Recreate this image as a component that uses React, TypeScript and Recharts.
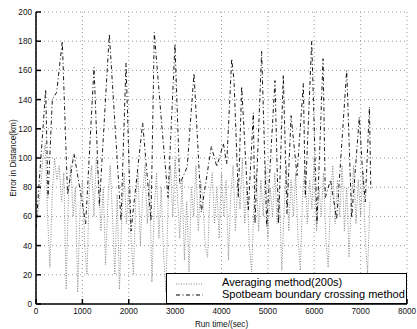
import React from 'react';
import { LineChart, Line, XAxis, YAxis, CartesianGrid, Legend } from 'recharts';

const xTicks = [0, 1000, 2000, 3000, 4000, 5000, 6000, 7000, 8000];
const yTicks = [0, 20, 40, 60, 80, 100, 120, 140, 160, 180, 200];
const seriesNames = ['Averaging method(200s)', 'Spotbeam boundary crossing method'];
const xLabel = 'Run time/(sec)';
const yLabel = 'Error in Distance(km)';

// Averaging method: sampled every 50 s from 0 to 7200 s
const avgStep = 50;
const avgErrors = [
  55, 65, 80, 100, 110, 60, 25, 75, 100, 85,
  95, 70, 90, 10, 75, 95, 60, 80, 8, 65,
  85, 40, 20, 80, 95, 60, 100, 85, 50, 80,
  27, 70, 95, 60, 20, 75, 10, 60, 90, 55,
  80, 45, 20, 70, 90, 40, 75, 95, 55, 85,
  15, 65, 90, 45, 80, 35, 8, 70, 95, 60,
  100, 75, 45, 85, 30, 70, 22, 80, 60, 95,
  50, 85, 70, 40, 32, 75, 90, 55, 80, 45,
  90, 60, 85, 30, 75, 95, 50, 85, 65, 100,
  55, 80, 40, 22, 70, 90, 50, 85, 60, 95,
  45, 80, 60, 90, 55, 75, 23, 65, 95, 50,
  85, 60, 90, 45, 23, 75, 95, 55, 85, 65,
  100, 50, 80, 60, 90, 45, 25, 70, 95, 55,
  85, 60, 95, 50, 80, 32, 70, 95, 55, 85,
  60, 90, 45, 21, 70,
];

// Spotbeam boundary crossing method
const spotTimes = [
  0, 209, 259, 352, 446, 567, 680, 820, 1071, 1251,
  1366, 1581, 1833, 1941, 2049, 2300, 2480, 2551, 2703, 2846,
  2997, 3100, 3260, 3407, 3565, 3781, 3900, 4040, 4112, 4220,
  4270, 4363, 4435, 4579, 4686, 4722, 4866, 4975, 5153, 5230,
  5333, 5412, 5500, 5628, 5765, 5807, 5945, 6059, 6190, 6239,
  6350, 6484, 6700, 6807, 6972, 7036, 7100, 7190, 7220,
];
const spotErrors = [
  52, 147, 73, 140, 145, 180, 75, 103, 55, 162,
  67, 185, 57, 165, 50, 124, 57, 186, 126, 73,
  178, 82, 94, 158, 63, 108, 94, 110, 96, 168,
  153, 73, 149, 64, 131, 55, 173, 53, 153, 55,
  157, 62, 129, 88, 151, 73, 180, 55, 168, 73,
  85, 58, 160, 59, 128, 94, 70, 135, 78,
];

const avgData = avgErrors.map((v, i) => ({ x: i * avgStep, y: v }));
const spotData = spotTimes.map((t, i) => ({ x: t, y: spotErrors[i] }));

const FONT = '"Liberation Sans", Arial, Helvetica, sans-serif';
const tickStyle = { fontSize: 8.2, fill: '#111', fontFamily: FONT };
const noLabel = () => <g />;

const renderLegend = () => (
  <div
    style={{
      width: 241,
      height: 31,
      boxSizing: 'border-box',
      border: '1.2px solid #000',
      background: '#fff',
      fontFamily: FONT,
      fontSize: 11,
      color: '#000',
      position: 'relative',
    }}
  >
    <svg width={50} height={31} style={{ position: 'absolute', left: 0, top: 0 }}>
      <line x1={9} x2={36} y1={10} y2={10} stroke="#888" strokeDasharray="1 1.5" />
      <line x1={9} x2={36} y1={21} y2={21} stroke="#000" strokeDasharray="4 2.5 1 2.5" />
    </svg>
    <div style={{ position: 'absolute', left: 55, top: 3, lineHeight: '11.5px', whiteSpace: 'nowrap' }}>
      {seriesNames[0]}
      <br />
      {seriesNames[1]}
    </div>
  </div>
);

export default function App() {
  return (
    <div style={{ position: 'absolute', left: 0, top: 0, background: '#fff' }}>
      <LineChart width={417} height={329} margin={{ top: 12, right: 10, bottom: 0, left: 0 }}>
        <CartesianGrid
          stroke="#999"
          strokeDasharray="1 3"
          horizontalValues={yTicks}
          verticalValues={xTicks}
          xAxisId="bottom"
          yAxisId="left"
        />
        <XAxis
          xAxisId="bottom"
          type="number"
          dataKey="x"
          domain={[0, 8000]}
          ticks={xTicks}
          allowDataOverflow
          height={25}
          tickSize={-5}
          tickMargin={9}
          tick={tickStyle}
          stroke="#000"
          strokeWidth={1.5}
          label={{ value: xLabel, position: 'insideBottom', offset: 2, style: { fontSize: 8.2, fill: '#111', fontFamily: FONT } }}
        />
        <XAxis
          xAxisId="top"
          orientation="top"
          type="number"
          dataKey="x"
          domain={[0, 8000]}
          ticks={xTicks}
          height={0}
          tickSize={-5}
          tick={noLabel}
          stroke="#000"
          strokeWidth={1.5}
        />
        <YAxis
          yAxisId="left"
          type="number"
          domain={[0, 200]}
          ticks={yTicks}
          width={36}
          tickSize={-5}
          tickMargin={9}
          tick={tickStyle}
          stroke="#000"
          strokeWidth={1.5}
          label={{ value: yLabel, angle: -90, position: 'center', dx: -5, style: { fontSize: 8.2, fill: '#111', fontFamily: FONT, textAnchor: 'middle' } }}
        />
        <YAxis
          yAxisId="right"
          orientation="right"
          type="number"
          domain={[0, 200]}
          ticks={yTicks}
          width={0}
          tickSize={-5}
          tick={noLabel}
          stroke="#000"
          strokeWidth={1.5}
        />
        <Line
          data={avgData}
          xAxisId="bottom"
          yAxisId="left"
          dataKey="y"
          name={seriesNames[0]}
          type="linear"
          stroke="#888"
          strokeWidth={1}
          strokeDasharray="1 1.5"
          dot={false}
          isAnimationActive={false}
        />
        <Line
          data={spotData}
          xAxisId="bottom"
          yAxisId="left"
          dataKey="y"
          name={seriesNames[1]}
          type="linear"
          stroke="#000"
          strokeWidth={0.9}
          strokeDasharray="4 2.5 1 2.5"
          dot={false}
          isAnimationActive={false}
        />
        <Legend
          layout="horizontal"
          align="center"
          verticalAlign="middle"
          content={renderLegend}
          wrapperStyle={{ left: 166, top: 273, width: 241, height: 31 }}
        />
      </LineChart>
    </div>
  );
}
